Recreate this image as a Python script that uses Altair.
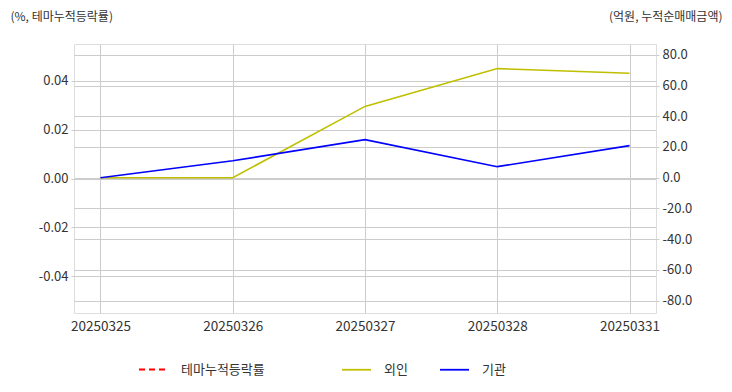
import altair as alt
import pandas as pd

dates = ["20250325", "20250326", "20250327", "20250328", "20250331"]
theme_rate = [None, None, None, None, None]  # 테마누적등락률 (not drawn in the reference)
foreign = [0.0, 0.0, 46.4, 71.0, 68.0]       # 외인
institution = [0.0, 11.0, 24.8, 7.2, 20.9]   # 기관

FONT = "Noto Sans CJK KR"
TXT = "#333333"
GRID = "#cccccc"

left_df = pd.DataFrame({"date": dates, "value": theme_rate, "series": ["테마누적등락률"] * len(dates)})
right_df = pd.DataFrame({
    "date": dates * 2,
    "value": foreign + institution,
    "series": ["외인"] * len(dates) + ["기관"] * len(dates),
})

xscale = alt.Scale(type="point", domain=dates, padding=0.2)
xaxis = alt.Axis(title=None, labelAngle=0, labelFontSize=13.5, labelFont=FONT, labelColor=TXT,
                 grid=True, gridColor=GRID, domain=False, ticks=False, labelPadding=6)

legend_common = dict(
    orient="none", direction="horizontal", title=None, symbolType="stroke",
    symbolSize=840, symbolStrokeWidth=1.8, labelFontSize=13, labelFont=FONT,
    labelColor=TXT, labelOffset=12, columnPadding=28,
)
fix_minus = "replace(datum.label, '\u2212', '-')"

left = alt.Chart(left_df).mark_line(strokeDash=[6, 4], strokeWidth=1.8).encode(
    x=alt.X("date:N", scale=xscale, axis=xaxis),
    y=alt.Y("value:Q", scale=alt.Scale(domain=[-0.055, 0.055], nice=False, zero=False),
            axis=alt.Axis(values=[-0.04, -0.02, 0.0, 0.02, 0.04], format=".2f", orient="left",
                          labelExpr=fix_minus,
                          title="(%, 테마누적등락률)", titleAngle=0, titleAlign="left",
                          titleBaseline="middle", titleX=-64, titleY=-28,
                          titleFontSize=12, titleFontWeight="normal", titleFont=FONT, titleColor=TXT,
                          labelFontSize=13, labelFont=FONT, labelColor=TXT, labelPadding=3,
                          grid=True, gridColor=GRID, domain=False, tickColor=GRID, tickSize=3)),
    color=alt.Color("series:N", scale=alt.Scale(domain=["테마누적등락률"], range=["#ff0000"]),
                    legend=alt.Legend(legendX=64, legendY=310, symbolDash=[6, 4], **legend_common)),
)

right = alt.Chart(right_df).mark_line(strokeWidth=1.6).encode(
    x=alt.X("date:N", scale=xscale, axis=xaxis),
    y=alt.Y("value:Q", scale=alt.Scale(domain=[-88, 87], nice=False, zero=False),
            axis=alt.Axis(values=[-80, -60, -40, -20, 0, 20, 40, 60, 80], format=".1f", orient="right",
                          labelExpr=fix_minus,
                          title="(억원, 누적순매매금액)", titleAngle=0, titleAlign="right",
                          titleBaseline="middle", titleX=66, titleY=-28,
                          titleFontSize=12, titleFontWeight="normal", titleFont=FONT, titleColor=TXT,
                          labelFontSize=13, labelFont=FONT, labelColor=TXT, labelPadding=3,
                          grid=True, gridColor=GRID, domain=False, tickColor=GRID, tickSize=3)),
    color=alt.Color("series:N", scale=alt.Scale(domain=["외인", "기관"], range=["#bfbf00", "#0000ff"]),
                    sort=["외인", "기관"],
                    legend=alt.Legend(legendX=267, legendY=310, **legend_common)),
)

chart = alt.layer(left, right).resolve_scale(
    y="independent", color="independent"
).resolve_legend(color="independent").properties(
    width=582, height=269,
    autosize=alt.AutoSizeParams(type="none"),
    padding={"left": 66, "top": 36, "right": 68, "bottom": 70},
).configure_view(stroke=GRID, strokeWidth=1.5).configure(font=FONT)

chart.save("out.html", embed_options={"renderer": "svg", "actions": False})
